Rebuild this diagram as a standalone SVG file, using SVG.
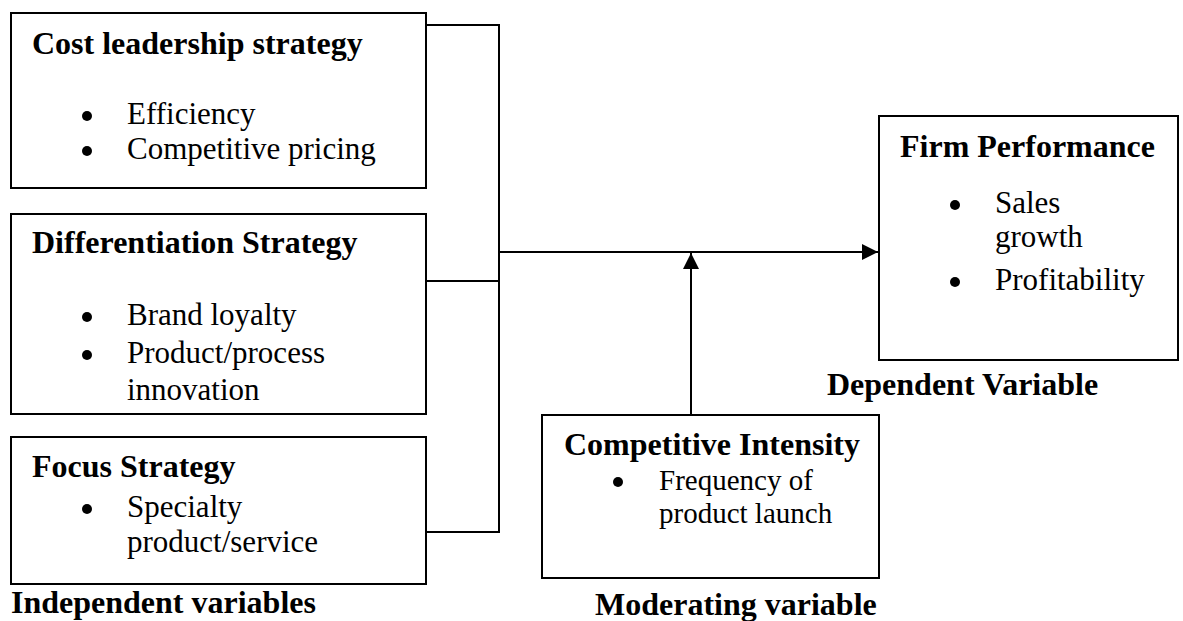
<svg xmlns="http://www.w3.org/2000/svg" width="1183" height="621" viewBox="0 0 1183 621">
<style>
.box{fill:#fff;stroke:#000;stroke-width:2}
.ln{fill:none;stroke:#000;stroke-width:2}
.t{font-family:"Liberation Serif","Times New Roman",serif;font-weight:bold;font-size:32px;fill:#000}
.b{font-family:"Liberation Serif","Times New Roman",serif;font-size:31px;fill:#000}
.s{font-family:"Liberation Serif","Times New Roman",serif;font-size:29px;fill:#000}
.dot{fill:#000}
</style>
<defs>
<marker id="ah" markerWidth="17" markerHeight="17" refX="16" refY="8" orient="auto" markerUnits="userSpaceOnUse">
<path d="M0,0 L16,8 L0,16 Z" fill="#000"/>
</marker>
</defs>
<rect width="1183" height="621" fill="#fff"/>
<g id="connectors">
<polyline class="ln" points="426,25 499,25 499,532 426,532"/>
<line class="ln" x1="426" y1="281" x2="499" y2="281"/>
<line class="ln" x1="499" y1="252" x2="878" y2="252" marker-end="url(#ah)"/>
<line class="ln" x1="691" y1="415" x2="691" y2="253" marker-end="url(#ah)"/>
</g>
<g id="cost">
<rect class="box" x="11" y="13" width="415" height="175"/>
<text class="t" x="32" y="54">Cost leadership strategy</text>
<circle class="dot" cx="87" cy="116" r="5"/>
<text class="b" x="127" y="124">Efficiency</text>
<circle class="dot" cx="87" cy="151" r="5"/>
<text class="b" x="127" y="159">Competitive pricing</text>
</g>
<g id="diff">
<rect class="box" x="11" y="214" width="415" height="200"/>
<text class="t" x="32" y="253">Differentiation Strategy</text>
<circle class="dot" cx="87" cy="317" r="5"/>
<text class="b" x="127" y="325">Brand loyalty</text>
<circle class="dot" cx="87" cy="355" r="5"/>
<text class="b" x="127" y="363">Product/process</text>
<text class="b" x="127" y="400">innovation</text>
</g>
<g id="focus">
<rect class="box" x="11" y="437" width="415" height="147"/>
<text class="t" x="32" y="477">Focus Strategy</text>
<circle class="dot" cx="87" cy="509" r="5"/>
<text class="b" x="127" y="517">Specialty</text>
<text class="b" x="127" y="552">product/service</text>
</g>
<g id="firm">
<rect class="box" x="879" y="116" width="299" height="244"/>
<text class="t" x="900" y="157">Firm Performance</text>
<circle class="dot" cx="955" cy="205" r="5"/>
<text class="b" x="995" y="213">Sales</text>
<text class="b" x="995" y="247">growth</text>
<circle class="dot" cx="955" cy="282" r="5"/>
<text class="b" x="995" y="290">Profitability</text>
</g>
<g id="moderator">
<rect class="box" x="542" y="415" width="337" height="163"/>
<text class="t" x="564" y="455">Competitive Intensity</text>
<circle class="dot" cx="618" cy="482" r="5"/>
<text class="s" x="659" y="490">Frequency of</text>
<text class="s" x="659" y="523">product launch</text>
</g>
<g id="labels">
<text class="t" x="11" y="613">Independent variables</text>
<text class="t" x="827" y="395">Dependent Variable</text>
<text class="t" x="595" y="615">Moderating variable</text>
</g>
</svg>
